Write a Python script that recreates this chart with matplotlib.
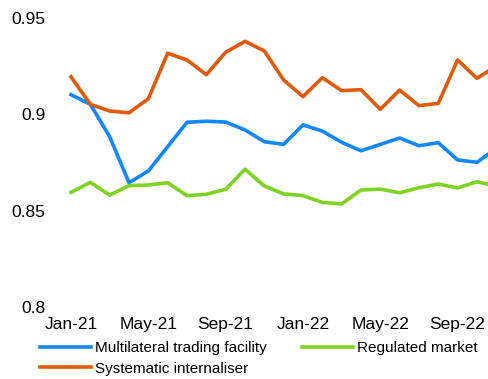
import matplotlib.pyplot as plt

plt.rcParams['font.family'] = ['Liberation Sans', 'DejaVu Sans']

months = ["Jan-21", "Feb-21", "Mar-21", "Apr-21", "May-21", "Jun-21", "Jul-21", "Aug-21",
          "Sep-21", "Oct-21", "Nov-21", "Dec-21", "Jan-22", "Feb-22", "Mar-22", "Apr-22",
          "May-22", "Jun-22", "Jul-22", "Aug-22", "Sep-22", "Oct-22", "Nov-22"]

mtf = [0.9102, 0.9052, 0.8884, 0.8645, 0.8706, 0.8832, 0.8959, 0.8964, 0.8960, 0.8919,
       0.8858, 0.8844, 0.8945, 0.8913, 0.8855, 0.8811, 0.8844, 0.8877, 0.8837, 0.8853,
       0.8763, 0.8751, 0.8823]
si = [0.9195, 0.9052, 0.9017, 0.9008, 0.9081, 0.9317, 0.9282, 0.9206, 0.9322, 0.9379,
      0.9329, 0.9178, 0.9092, 0.9190, 0.9123, 0.9128, 0.9026, 0.9126, 0.9045, 0.9057,
      0.9282, 0.9187, 0.9250]
rm = [0.8595, 0.8647, 0.8581, 0.8630, 0.8633, 0.8645, 0.8578, 0.8585, 0.8611, 0.8715,
      0.8628, 0.8587, 0.8578, 0.8543, 0.8535, 0.8607, 0.8612, 0.8593, 0.8619, 0.8638,
      0.8618, 0.8650, 0.8628]

x = list(range(len(months)))

fig = plt.figure(figsize=(4.88, 3.79), dpi=100)
ax = fig.add_axes([60 / 488, 72 / 379, 428 / 488, 289 / 379])

ax.plot(x, mtf, color="#1188FF", lw=2.6, label="Multilateral trading facility")
ax.plot(x, si, color="#E05A0A", lw=2.6, label="Systematic internaliser")
ax.plot(x, rm, color="#7ED320", lw=2.6, label="Regulated market")

ax.set_ylim(0.8, 0.95)
ax.set_yticks([0.8, 0.85, 0.9, 0.95])
ax.set_yticklabels(["0.8", "0.85", "0.9", "0.95"])
ax.set_xlim(-11 / 19.33, 417 / 19.33)
ax.set_xticks(x[::4])
ax.set_xticklabels(months[::4])

for s in ax.spines.values():
    s.set_visible(False)
ax.tick_params(length=0, labelsize=12.5, colors="black")
ax.tick_params(axis="y", pad=10.5)
ax.tick_params(axis="x", pad=7)

ax.legend(loc="upper left", bbox_to_anchor=(34 / 488, 44 / 379), bbox_transform=fig.transFigure,
          ncol=2, frameon=False, fontsize=11, handlelength=3.3, handletextpad=0.27,
          columnspacing=2.35, labelspacing=0.42, borderaxespad=0)

fig.savefig("out.png", dpi=100)
